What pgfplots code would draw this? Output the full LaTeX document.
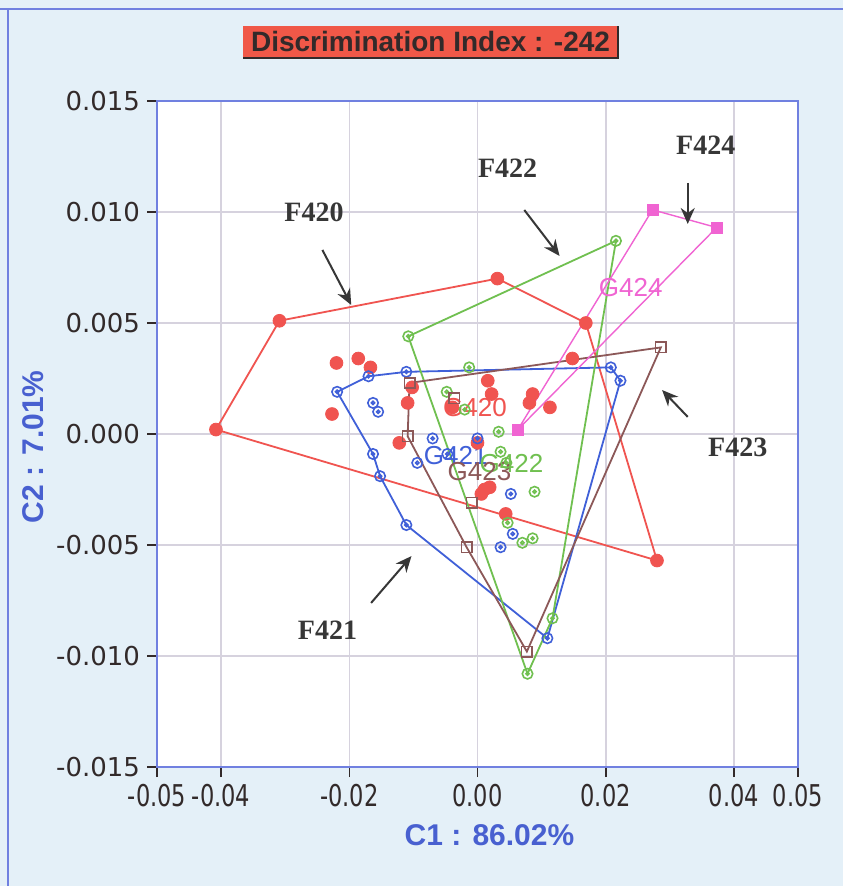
\documentclass[border=0pt]{standalone}
\usepackage{pgfplots}
\pgfplotsset{compat=1.18}
\usepackage{fontspec}
\setmainfont{Liberation Sans}
\newfontfamily\tickfont{DejaVu Sans}
\newfontfamily\condfont[FakeStretch=0.75]{DejaVu Sans}
\newfontfamily\serifb{Liberation Serif}
\usetikzlibrary{arrows.meta}
\definecolor{bgblue}{RGB}{228,240,248}
\definecolor{frameblue}{RGB}{112,128,224}
\definecolor{gridgray}{RGB}{214,210,222}
\definecolor{cRed}{RGB}{240,84,80}
\definecolor{cBlue}{RGB}{64,96,216}
\definecolor{cGreen}{RGB}{112,192,80}
\definecolor{cBrown}{RGB}{140,88,88}
\definecolor{cPink}{RGB}{240,100,210}
\definecolor{titlered}{RGB}{240,88,72}
\definecolor{textdark}{RGB}{50,42,42}
\definecolor{labelblue}{RGB}{72,96,208}
\definecolor{arrowgray}{RGB}{55,55,55}
\pgfdeclareplotmark{odot}{%
  \pgfpathcircle{\pgfpointorigin}{\pgfplotmarksize}\pgfusepathqstroke
  \pgfpathcircle{\pgfpointorigin}{0.3\pgfplotmarksize}\pgfusepathqstroke}
\begin{document}
\begin{tikzpicture}
\useasboundingbox (0,0) rectangle (421.5pt,443pt);
\fill[bgblue] (0,0) rectangle (421.5pt,443pt);
\draw[frameblue, line width=1pt] (0,438.5pt) -- (421.5pt,438.5pt);
\draw[frameblue, line width=1pt] (4pt,0) -- (4pt,438.5pt);
\fill[titlered] (121.5pt,414pt) rectangle (309pt,430pt);
\draw[textdark, line width=0.8pt] (121.5pt,414pt) -- (309pt,414pt) -- (309pt,430pt);
\node[text=textdark, font=\bfseries\fontsize{14}{14}\selectfont] at (215.25pt,422pt) {Discrimination Index : -242};
\begin{axis}[
  at={(78.5pt,59.5pt)}, anchor=south west,
  width=320.5pt, height=333pt, scale only axis,
  xmin=-0.05, xmax=0.05, ymin=-0.015, ymax=0.015,
  axis background/.style={fill=white},
  axis line style={frameblue, line width=1pt},
  grid=major, grid style={gridgray, line width=0.8pt},
  xtick pos=bottom, ytick pos=left,
  xtick={-0.05,-0.04,-0.02,0,0.02,0.04,0.05},
  xticklabels={-0.05,-0.04,-0.02,0.00,0.02,0.04,0.05},
  ytick={-0.015,-0.01,-0.005,0,0.005,0.01,0.015},
  yticklabels={-0.015,-0.010,-0.005,0.000,0.005,0.010,0.015},
  scaled ticks=false,
  tick align=outside, major tick length=5pt,
  tick style={textdark, line width=0.8pt},
  xticklabel style={font=\condfont\fontsize{15}{15}\selectfont, text=textdark},
  yticklabel style={font=\tickfont\fontsize{13}{13}\selectfont, text=textdark},
  xlabel={C1 : 86.02\%}, ylabel={C2 : 7.01\%},
  xlabel style={at={(axis description cs:0.5,0)}, anchor=center, yshift=-34pt, xshift=6pt, font=\bfseries\fontsize{15}{15}\selectfont, text=labelblue},
  ylabel style={at={(axis description cs:0,0.5)}, anchor=center, rotate=0, yshift=62pt, xshift=-6.5pt, font=\bfseries\fontsize{15}{15}\selectfont, text=labelblue},
]
% F420 (red)
\addplot[cRed, line width=0.9pt, mark=none] coordinates {(-0.0408,0.0002) (-0.0309,0.0051) (0.0031,0.0070) (0.0169,0.0050) (0.0280,-0.0057) (-0.0408,0.0002)};
\addplot[only marks, mark=*, mark size=3.2pt, color=cRed] coordinates {
(-0.0408,0.0002) (-0.0309,0.0051) (0.0031,0.0070) (0.0169,0.0050) (0.0280,-0.0057)
(-0.0220,0.0032) (-0.0186,0.0034) (-0.0167,0.0030) (-0.0227,0.0009) (-0.0102,0.0021)
(-0.0109,0.0014) (-0.0122,-0.0004) (0.0016,0.0024) (0.0022,0.0018) (0.0086,0.0018)
(0.0081,0.0014) (0.0113,0.0012) (0.0148,0.0034) (0.0000,-0.0004) (-0.0039,0.0012)
(0.0011,-0.0025) (0.0019,-0.0024) (0.0006,-0.0027) (0.0044,-0.0036)};
% F421 (blue)
\addplot[cBlue, line width=0.9pt, mark=none] coordinates {(-0.0219,0.0019) (-0.0170,0.0026) (-0.0111,0.0028) (0.0208,0.0030) (0.0223,0.0024) (0.0109,-0.0092) (-0.0111,-0.0041) (-0.0152,-0.0019) (-0.0163,-0.0009) (-0.0219,0.0019)};
\addplot[only marks, mark=odot, mark size=2.6pt, color=cBlue, line width=0.8pt] coordinates {
(-0.0219,0.0019) (-0.0170,0.0026) (-0.0111,0.0028) (0.0208,0.0030) (0.0223,0.0024)
(0.0109,-0.0092) (-0.0111,-0.0041) (-0.0152,-0.0019) (-0.0163,-0.0009)
(-0.0163,0.0014) (-0.0155,0.0010) (-0.0070,-0.0002) (-0.0094,-0.0013) (-0.0047,-0.0009)
(0.0000,-0.0002) (0.0052,-0.0027) (0.0055,-0.0045) (0.0036,-0.0051)};
% F422 (green)
\addplot[cGreen, line width=0.9pt, mark=none] coordinates {(-0.0108,0.0044) (0.0216,0.0087) (0.0117,-0.0083) (0.0078,-0.0108) (-0.0108,0.0044)};
\addplot[only marks, mark=odot, mark size=2.6pt, color=cGreen, line width=0.8pt] coordinates {
(-0.0108,0.0044) (0.0216,0.0087) (0.0117,-0.0083) (0.0078,-0.0108)
(-0.0013,0.0030) (-0.0048,0.0019) (-0.0020,0.0011) (0.0033,0.0001) (0.0036,-0.0008)
(0.0045,-0.0013) (0.0089,-0.0026) (0.0047,-0.0040) (0.0070,-0.0049) (0.0086,-0.0047)};
% F423 (brown)
\addplot[cBrown, line width=0.9pt, mark=none] coordinates {(-0.0106,0.0023) (0.0286,0.0039) (0.0077,-0.0098) (-0.0017,-0.0051) (-0.0109,-0.0001) (-0.0106,0.0023)};
\addplot[only marks, mark=square, mark size=2.6pt, color=cBrown, line width=0.8pt] coordinates {
(-0.0106,0.0023) (0.0286,0.0039) (0.0077,-0.0098) (-0.0017,-0.0051) (-0.0109,-0.0001)
(-0.0036,0.0016) (-0.0009,-0.0031)};
% F424 (pink)
\addplot[cPink, line width=0.7pt, mark=none] coordinates {(0.0063,0.0002) (0.0273,0.0101) (0.0373,0.0093) (0.0063,0.0002)};
\addplot[only marks, mark=square*, mark size=2.8pt, color=cPink] coordinates {(0.0063,0.0002) (0.0273,0.0101) (0.0373,0.0093)};
% group labels
\node[text=cRed, font=\fontsize{13}{13}\selectfont] at (axis cs:-0.0004,0.00117) {G420};
\node[text=cBlue, font=\fontsize{13}{13}\selectfont] at (axis cs:-0.0034,-0.00095) {G421};
\node[text=cGreen, font=\fontsize{13}{13}\selectfont] at (axis cs:0.0053,-0.00131) {G422};
\node[text=cBrown, font=\fontsize{13}{13}\selectfont] at (axis cs:0.0003,-0.00167) {G423};
\node[text=cPink, font=\fontsize{13}{13}\selectfont] at (axis cs:0.0239,0.00658) {G424};
% annotations
\node[font=\serifb\bfseries\fontsize{14}{14}\selectfont, text=arrowgray] at (axis cs:-0.0255,0.0100) {F420};
\node[font=\serifb\bfseries\fontsize{14}{14}\selectfont, text=arrowgray] at (axis cs:0.0047,0.01198) {F422};
\node[font=\serifb\bfseries\fontsize{14}{14}\selectfont, text=arrowgray] at (axis cs:0.0356,0.01302) {F424};
\node[font=\serifb\bfseries\fontsize{14}{14}\selectfont, text=arrowgray] at (axis cs:0.0406,-0.00059) {F423};
\node[font=\serifb\bfseries\fontsize{14}{14}\selectfont, text=arrowgray] at (axis cs:-0.0234,-0.00883) {F421};
\draw[arrowgray, line width=1pt, -{Stealth[length=8pt,width=7pt]}] (axis cs:-0.0242,0.00829) -- (axis cs:-0.0197,0.00581);
\draw[arrowgray, line width=1pt, -{Stealth[length=8pt,width=7pt]}] (axis cs:0.0073,0.01009) -- (axis cs:0.0128,0.00802);
\draw[arrowgray, line width=1pt, -{Stealth[length=8pt,width=7pt]}] (axis cs:0.0328,0.01131) -- (axis cs:0.0328,0.00946);
\draw[arrowgray, line width=1pt, -{Stealth[length=8pt,width=7pt]}] (axis cs:0.0328,0.00077) -- (axis cs:0.0288,0.00198);
\draw[arrowgray, line width=1pt, -{Stealth[length=8pt,width=7pt]}] (axis cs:-0.0166,-0.00761) -- (axis cs:-0.0103,-0.00550);
\end{axis}
\end{tikzpicture}
\end{document}
